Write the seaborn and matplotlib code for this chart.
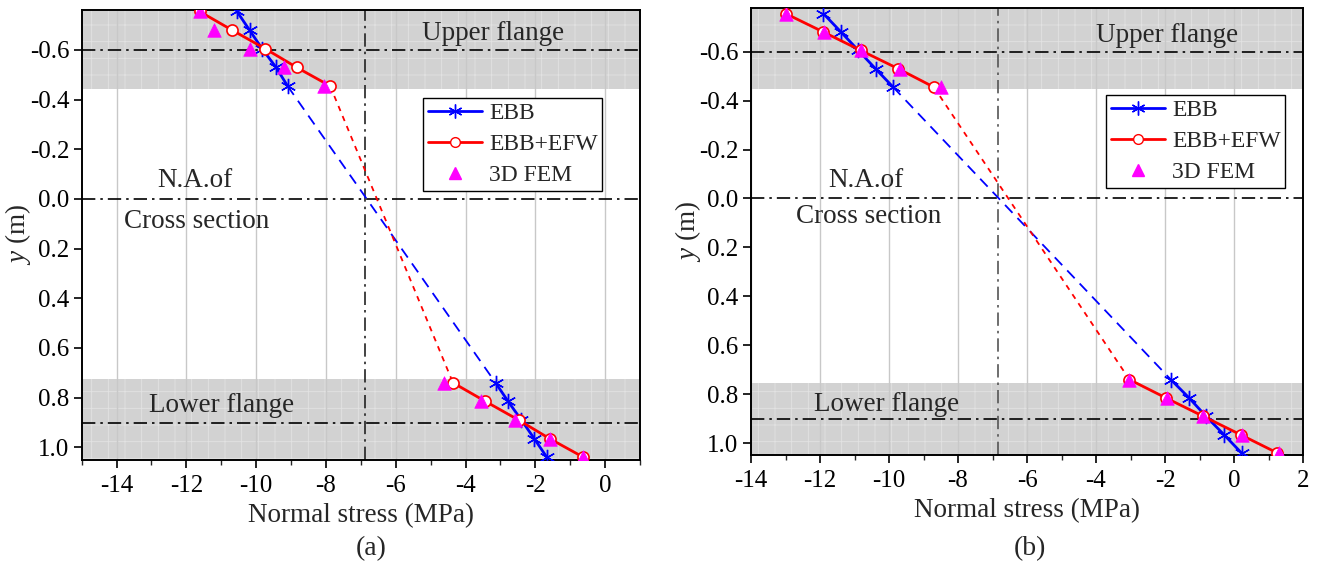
import numpy as np
import pandas as pd
import matplotlib
matplotlib.use("Agg")
import matplotlib.pyplot as plt
from matplotlib.lines import Line2D
from matplotlib.ticker import MultipleLocator, FormatStrFormatter
import seaborn as sns

# ---------------- data ----------------
y_upper = [-0.755, -0.68, -0.605, -0.53, -0.455]
y_lower = [0.74, 0.815, 0.89, 0.965, 1.04]

# panel (a)
ebb_a_up = [-10.55, -10.19, -9.83, -9.43, -9.10]
ebb_a_low = [-3.14, -2.78, -2.40, -2.03, -1.67]
efw_a_up = [-11.62, -10.69, -9.74, -8.84, -7.88]
efw_a_low = [-4.36, -3.43, -2.48, -1.59, -0.62]
fem_a_up = [-11.62, -11.21, -10.19, -9.19, -8.05]
fem_a_low = [-4.62, -3.57, -2.57, -1.59, -0.62]

# panel (b)
ebb_b_up = [-11.90, -11.39, -10.89, -10.39, -9.88]
ebb_b_low = [-1.83, -1.30, -0.81, -0.29, 0.22]
efw_b_up = [-12.99, -11.90, -10.82, -9.73, -8.70]
efw_b_low = [-3.03, -1.97, -0.89, 0.19, 1.26]
fem_b_up = [-12.99, -11.88, -10.81, -9.68, -8.50]
fem_b_low = [-3.03, -1.94, -0.89, 0.22, 1.31]

series_labels = ["EBB", "EBB+EFW", "3D FEM"]
y_ticks = [-0.6, -0.4, -0.2, 0.0, 0.2, 0.4, 0.6, 0.8, 1.0]
flange_lines = [-0.6, 0.9]
na_line = 0.0
panel_labels = ["(a)", "(b)"]

# ---------------- style ----------------
sns.set_theme(style="ticks")
plt.rcParams["font.family"] = ["Liberation Serif", "DejaVu Serif"]
plt.rcParams["mathtext.fontset"] = "custom"
plt.rcParams["mathtext.rm"] = "Liberation Serif"
plt.rcParams["mathtext.it"] = "Liberation Serif:italic"
plt.rcParams["axes.unicode_minus"] = False
plt.rcParams["hatch.linewidth"] = 0.6

BLUE = "#0000ff"
RED = "#ff0000"
MAG = "#ff00ff"
DASHDOT = (0, (8, 3, 1.5, 3))

fig = plt.figure(figsize=(13.2, 5.66), dpi=100)
ax_a = fig.add_axes([81.7 / 1320, 1 - 460 / 566, (640 - 81.7) / 1320, 450 / 566])
ax_b = fig.add_axes([751 / 1320, 1 - 455 / 566, (1303 - 751) / 1320, 446.7 / 566])

panels = [
    dict(ax=ax_a, ebb=(ebb_a_up, ebb_a_low), efw=(efw_a_up, efw_a_low), fem=(fem_a_up, fem_a_low),
         xlim=(-15, 1), ylim=(1.051, -0.761), upper_span=-0.442, lower_span=0.725, vline=-6.89,
         vcolor="#222222", xt=np.arange(-14, 1, 2),
         txt_upper=(-3.2, -0.665), txt_na=(-11.76, -0.075), txt_cs=(-11.7, 0.09), txt_lower=(-11.0, 0.83),
         leg=(0.611, 0.804), lab=(371 / 1320, 1 - 549 / 566)),
    dict(ax=ax_b, ebb=(ebb_b_up, ebb_b_low), efw=(efw_b_up, efw_b_low), fem=(fem_b_up, fem_b_low),
         xlim=(-14, 2), ylim=(1.048, -0.777), upper_span=-0.446, lower_span=0.755, vline=-6.85,
         vcolor="#555555", xt=np.arange(-14, 3, 2),
         txt_upper=(-1.95, -0.665), txt_na=(-10.67, -0.075), txt_cs=(-10.6, 0.075), txt_lower=(-10.06, 0.843),
         leg=(0.643, 0.806), lab=(1030 / 1320, 1 - 549 / 566)),
]

for i, p in enumerate(panels):
    ax = p["ax"]
    ax.set_xlim(*p["xlim"])
    ax.set_ylim(*p["ylim"])

    # flange shading
    for lo, hi in [(p["ylim"][1], p["upper_span"]), (p["lower_span"], p["ylim"][0])]:
        ax.axhspan(lo, hi, facecolor="#d2d2d2", edgecolor="#e2e2e2", hatch="+", lw=0, zorder=0.2)

    ax.grid(axis="x", color="#c8c8c8", lw=1.0)
    ax.set_axisbelow(True)

    # reference lines
    for yl in flange_lines + [na_line]:
        ax.axhline(yl, color="black", lw=1.2, ls=DASHDOT, zorder=1.5)
    ax.axvline(p["vline"], color=p["vcolor"], lw=1.2, ls=DASHDOT, zorder=1.5)

    ebb_up, ebb_low = p["ebb"]
    efw_up, efw_low = p["efw"]
    fem_up, fem_low = p["fem"]

    # connectors across web
    sns.lineplot(x=[ebb_up[-1], ebb_low[0]], y=[y_upper[-1], y_lower[0]], sort=False, estimator=None,
                 color=BLUE, lw=1.3, ls=(0, (6, 4)), ax=ax, zorder=2)
    sns.lineplot(x=[efw_up[-1], efw_low[0]], y=[y_upper[-1], y_lower[0]], sort=False, estimator=None,
                 color=RED, lw=1.3, ls=(0, (3, 3)), ax=ax, zorder=2)

    for ys, eb, ef in [(y_upper, ebb_up, efw_up), (y_lower, ebb_low, efw_low)]:
        sns.lineplot(x=eb, y=ys, sort=False, estimator=None, color=BLUE, lw=2.0,
                     marker=(6, 2, 0), markersize=11, markeredgewidth=1.0, markeredgecolor=BLUE,
                     ax=ax, zorder=3)
        sns.lineplot(x=ef, y=ys, sort=False, estimator=None, color=RED, lw=2.0,
                     marker="o", markersize=8, markerfacecolor="white", markeredgecolor=RED,
                     markeredgewidth=1.2, ax=ax, zorder=4)
    fem_df = pd.DataFrame({"x": fem_up + fem_low, "y": y_upper + y_lower})
    sns.scatterplot(data=fem_df, x="x", y="y", marker="^", s=95, color=MAG, edgecolor=MAG,
                    linewidth=0.5, ax=ax, zorder=5)

    # ticks
    ax.set_xticks(p["xt"])
    ax.xaxis.set_minor_locator(MultipleLocator(1))
    ax.set_yticks(y_ticks)
    ax.yaxis.set_major_formatter(FormatStrFormatter("%.1f"))
    ax.tick_params(axis="both", which="major", direction="out", length=6, width=1.2,
                   labelsize=18, colors="black", top=False, right=False, left=True, bottom=True)
    ax.tick_params(axis="x", which="minor", direction="out", length=3.5, width=1.0, bottom=True)
    ax.tick_params(axis="x", pad=5)
    ax.tick_params(axis="y", pad=3)
    for s in ax.spines.values():
        s.set_visible(True)
        s.set_linewidth(1.4)
        s.set_color("black")

    ax.set_xlabel("Normal stress (MPa)", fontsize=19.5, labelpad=4)
    ax.set_ylabel(r"$y$ (m)", fontsize=19.5)
    ax.yaxis.set_label_coords(-0.087, 0.5)

    # annotations
    ax.text(*p["txt_upper"], "Upper flange", fontsize=19.5, ha="center", va="center", zorder=6)
    ax.text(*p["txt_na"], "N.A.of", fontsize=19.5, ha="center", va="center", zorder=6)
    ax.text(*p["txt_cs"], "Cross section", fontsize=19.5, ha="center", va="center", zorder=6)
    ax.text(*p["txt_lower"], "Lower flange", fontsize=19.5, ha="center", va="center", zorder=6)

    handles = [
        Line2D([], [], color=BLUE, lw=2.0, marker=(6, 2, 0), markersize=10, markeredgecolor=BLUE),
        Line2D([], [], color=RED, lw=2.0, marker="o", markersize=7, markerfacecolor="white",
               markeredgecolor=RED),
        Line2D([], [], color=MAG, lw=0, marker="^", markersize=8),
    ]
    leg = ax.legend(handles, series_labels, loc="upper left", bbox_to_anchor=p["leg"],
                    fontsize=17, frameon=True, fancybox=False, edgecolor="black",
                    framealpha=1, handlelength=2.3, handletextpad=0.3, borderpad=0.2,
                    labelspacing=0.4, borderaxespad=0)
    leg.get_frame().set_linewidth(1.0)
    leg.set_zorder(10)

    fig.text(*p["lab"], panel_labels[i], fontsize=20, ha="center", va="center")

fig.savefig("out.png", dpi=100)
